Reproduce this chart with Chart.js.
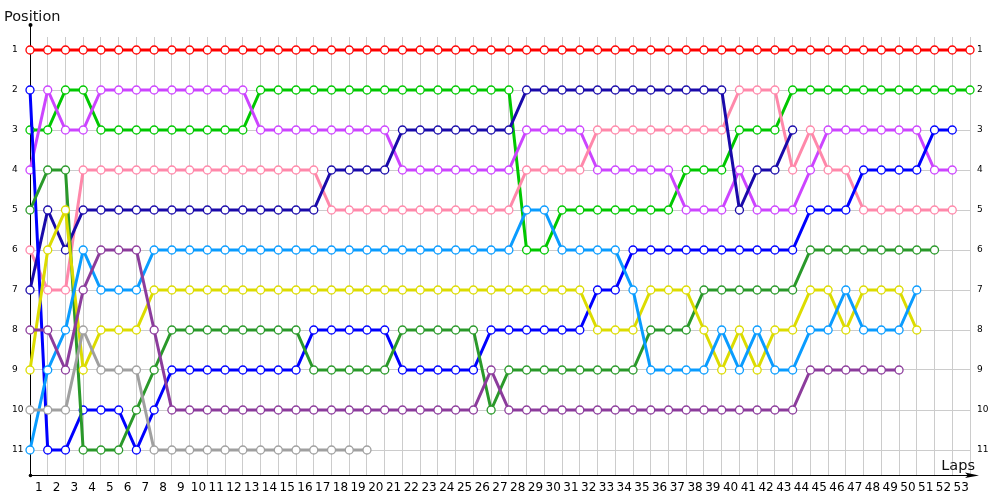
<!DOCTYPE html>
<html lang="en">
<head>
  <meta charset="UTF-8">
  <title>Lap Chart</title>
  <script src="https://cdn.jsdelivr.net/npm/chart.js@4.4.1/dist/chart.umd.min.js"></script>
  <style>
    html, body { margin: 0; padding: 0; background: #fff; }
    .chart-box { position: relative; width: 1000px; height: 500px; }
  </style>
</head>
<body>
  <div class="chart-box"><canvas id="lapChart"></canvas></div>

  <script>
    // --- Laps (x categories) and positions (y ticks) ---
    const LAPS = [0,1,2,3,4,5,6,7,8,9,10,11,12,13,14,15,16,17,18,19,20,21,22,23,24,25,26,
                  27,28,29,30,31,32,33,34,35,36,37,38,39,40,41,42,43,44,45,46,47,48,49,50,51,52,53];
    const POSITIONS = [1,2,3,4,5,6,7,8,9,10,11];

    // --- Position of each car per lap (null = not running) ---
    const RED = [1,1,1,1,1,1,1,1,1,1, 1,1,1,1,1,1,1,1,1,1, 1,1,1,1,1,1,1,1,1,1,
                 1,1,1,1,1,1,1,1,1,1, 1,1,1,1,1,1,1,1,1,1, 1,1,1,1];
    const LIME = [3,3,2,2,3,3,3,3,3,3, 3,3,3,2,2,2,2,2,2,2, 2,2,2,2,2,2,2,2,6,6,
                  5,5,5,5,5,5,5,4,4,4, 3,3,3,2,2,2,2,2,2,2, 2,2,2,2];
    const MAGENTA = [4,2,3,3,2,2,2,2,2,2, 2,2,2,3,3,3,3,3,3,3, 3,4,4,4,4,4,4,4,3,3,
                     3,3,4,4,4,4,4,5,5,5, 4,5,5,5,4,3,3,3,3,3, 3,4,4,null];
    const PINK = [6,7,7,4,4,4,4,4,4,4, 4,4,4,4,4,4,4,5,5,5, 5,5,5,5,5,5,5,5,4,4,
                  4,4,3,3,3,3,3,3,3,3, 2,2,2,4,3,4,4,5,5,5, 5,5,5,null];
    const NAVY = [7,5,6,5,5,5,5,5,5,5, 5,5,5,5,5,5,5,4,4,4, 4,3,3,3,3,3,3,3,2,2,
                  2,2,2,2,2,2,2,2,2,2, 5,4,4,3,null,null,null,null,null,null, null,null,null,null];
    const BLUE = [2,11,11,10,10,10,11,10,9,9, 9,9,9,9,9,9,8,8,8,8, 8,9,9,9,9,9,8,8,8,8,
                  8,8,7,7,6,6,6,6,6,6, 6,6,6,6,5,5,5,4,4,4, 4,3,3,null];
    const DKGREEN = [5,4,4,11,11,11,10,9,8,8, 8,8,8,8,8,8,9,9,9,9, 9,8,8,8,8,8,10,9,9,9,
                     9,9,9,9,9,8,8,8,7,7, 7,7,7,7,6,6,6,6,6,6, 6,6,null,null];
    const YELLOW = [9,6,5,9,8,8,8,7,7,7, 7,7,7,7,7,7,7,7,7,7, 7,7,7,7,7,7,7,7,7,7,
                    7,7,8,8,8,7,7,7,8,9, 8,9,8,8,7,7,8,7,7,7, 8,null,null,null];
    const LTBLUE = [11,9,8,6,7,7,7,6,6,6, 6,6,6,6,6,6,6,6,6,6, 6,6,6,6,6,6,6,6,5,5,
                    6,6,6,6,7,9,9,9,9,8, 9,8,9,9,8,8,7,8,8,8, 7,null,null,null];
    const PURPLE = [8,8,9,7,6,6,6,8,10,10, 10,10,10,10,10,10,10,10,10,10, 10,10,10,10,10,10,9,10,10,10,
                    10,10,10,10,10,10,10,10,10,10, 10,10,10,10,9,9,9,9,9,9, null,null,null,null];
    const GRAY = [10,10,10,8,9,9,9,11,11,11, 11,11,11,11,11,11,11,11,11,11,
                  null,null,null,null,null,null,null,null,null,null, null,null,null,null,null,null,null,null,null,null,
                  null,null,null,null,null,null,null,null,null,null, null,null,null,null];

    // one line per car: [values, colour]; later cars are drawn on top
    const CARS = [
      [RED, '#ff0000'],
      [LIME, '#00c800'],
      [MAGENTA, '#cc44ff'],
      [PINK, '#ff88aa'],
      [NAVY, '#1a0aaa'],
      [BLUE, '#0000ff'],
      [DKGREEN, '#2a992a'],
      [YELLOW, '#dcdc00'],
      [LTBLUE, '#0a9cff'],
      [PURPLE, '#8c3c9c'],
      [GRAY, '#a0a0a0']
    ];

    const FONT = '"DejaVu Sans", sans-serif';

    // --- Axis lines, arrow, titles ---
    const axisDecor = {
      id: 'axisDecor',
      beforeDatasetsDraw(chart) {
        const { ctx, chartArea: a } = chart;
        ctx.save();
        ctx.strokeStyle = '#000';
        ctx.fillStyle = '#000';
        ctx.lineWidth = 1;
        ctx.beginPath();
        ctx.moveTo(a.left + 0.5, 25);
        ctx.lineTo(a.left + 0.5, a.bottom + 0.5);
        ctx.lineTo(a.right, a.bottom + 0.5);
        ctx.stroke();
        // arrow head on x axis
        ctx.beginPath();
        ctx.moveTo(a.right + 9, a.bottom + 0.5);
        ctx.lineTo(a.right - 5, a.bottom - 2.5);
        ctx.lineTo(a.right - 2, a.bottom + 0.5);
        ctx.lineTo(a.right - 5, a.bottom + 3);
        ctx.closePath();
        ctx.fill();
        // dots at axis ends
        ctx.beginPath(); ctx.arc(a.left + 0.5, 25, 2, 0, Math.PI * 2); ctx.fill();
        ctx.beginPath(); ctx.arc(a.left + 0.5, a.bottom + 0.5, 1.8, 0, Math.PI * 2); ctx.fill();
        ctx.restore();
      },
      afterDraw(chart) {
        const { ctx } = chart;
        ctx.save();
        ctx.fillStyle = '#111';
        ctx.font = '14.5px ' + FONT;
        ctx.textBaseline = 'alphabetic';
        ctx.textAlign = 'left';
        ctx.fillText('Position', 4, 21);
        ctx.textAlign = 'right';
        ctx.fillText('Laps', 975, 470);
        ctx.restore();
      }
    };

    const yTicks = scale => { scale.ticks = POSITIONS.map(v => ({ value: v })); };

    new Chart(document.getElementById('lapChart'), {
      type: 'line',
      data: {
        labels: LAPS,
        datasets: CARS.map(([vals, col], i) => ({
          data: vals,
          order: CARS.length - i,
          borderColor: col,
          backgroundColor: col,
          borderWidth: 3,
          pointRadius: 4,
          pointBorderWidth: 1.3,
          pointBackgroundColor: '#ffffff',
          pointBorderColor: col,
          tension: 0,
          fill: false,
          clip: false
        }))
      },
      options: {
        responsive: true,
        maintainAspectRatio: false,
        animation: false,
        layout: { padding: { top: 37, left: 12, right: 0, bottom: 0 } },
        scales: {
          x: {
            type: 'category',
            offset: false,
            grid: { color: '#cccccc', drawTicks: false },
            border: { display: false },
            ticks: {
              autoSkip: false,
              maxRotation: 0,
              padding: 6,
              labelOffset: -8.87,
              color: '#000',
              font: { family: FONT, size: 12 },
              callback: (v, i) => (i === 0 ? '' : String(LAPS[i]))
            },
            afterFit: s => { s.height = 25; }
          },
          y: {
            type: 'linear',
            position: 'left',
            reverse: true,
            min: 0.675,
            max: 11.625,
            afterBuildTicks: yTicks,
            grid: { color: '#cccccc', drawTicks: false },
            border: { display: false },
            ticks: { crossAlign: 'far', color: '#000', font: { family: FONT, size: 9 } },
            afterFit: s => { s.width = 18; }
          },
          yR: {
            type: 'linear',
            position: 'right',
            reverse: true,
            min: 0.675,
            max: 11.625,
            afterBuildTicks: yTicks,
            grid: { display: false, drawTicks: false },
            border: { display: false },
            ticks: { padding: 7, color: '#000', font: { family: FONT, size: 9 } },
            afterFit: s => { s.width = 30; }
          }
        },
        plugins: {
          legend: { display: false },
          tooltip: { enabled: false }
        }
      },
      plugins: [axisDecor]
    });
  </script>
</body>
</html>
